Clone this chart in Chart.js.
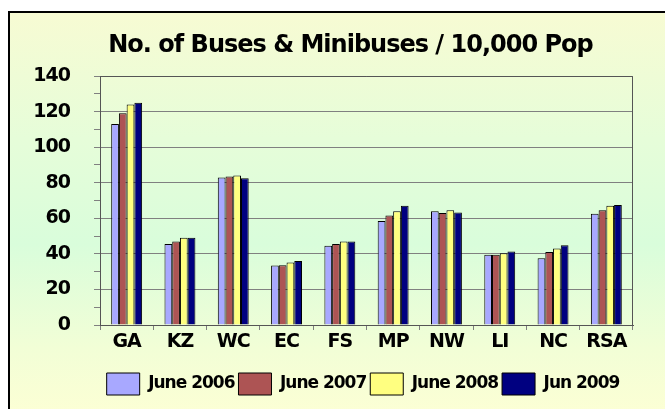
<!DOCTYPE html>
<html>
<head>
<meta charset="utf-8">
<title>No. of Buses & Minibuses / 10,000 Pop</title>
<script src="https://cdn.jsdelivr.net/npm/chart.js@4/dist/chart.umd.min.js"></script>
<style>
    html, body { margin: 0; padding: 0; background: #fff; }
    body { width: 665px; height: 409px; position: relative; overflow: hidden; }
    #frame {
        position: absolute; left: 8px; top: 11px; width: 700px; height: 420px;
        border-top: 2px solid #000; border-left: 2px solid #000;
        background: linear-gradient(to bottom, #F7FBD3 0%, #E6FDD9 30%, #D9FDDB 55%, #F2FED6 80%, #FFFFD4 100%);
    }
    #wrap { position: absolute; left: 0; top: 0; width: 665px; height: 409px; }
</style>
</head>
<body>
<div id="frame"></div>
<div id="wrap"><canvas id="chart"></canvas></div>
<script>
// Data
const categories = ['GA', 'KZ', 'WC', 'EC', 'FS', 'MP', 'NW', 'LI', 'NC', 'RSA'];
const june2006 = [113, 45.5, 83, 33.5, 44.5, 58.5, 64, 39.5, 37.5, 62.5];
const june2007 = [119, 47, 83.5, 33.6, 45.5, 61.5, 63, 39.5, 41, 64.5];
const june2008 = [124, 49, 84, 35.2, 47, 64, 64.5, 40.3, 43, 67];
const jun2009 = [125, 49, 82.5, 36, 47, 67, 63.3, 41.3, 44.8, 67.5];
const seriesLabels = ['June 2006', 'June 2007', 'June 2008', 'Jun 2009'];
const yMax = 140;

const FONT = "'DejaVu Sans', sans-serif";

// Squeezed text like the original export
const tightText = {
    id: 'tightText',
    beforeUpdate(chart) { chart.ctx.letterSpacing = '-1px'; },
    beforeLayout(chart) { chart.ctx.letterSpacing = '-1px'; },
    beforeDraw(chart) { chart.ctx.letterSpacing = '-1px'; }
};

// Title and legend sit a bit right of the canvas centre in the original
const nudgeBoxes = {
    id: 'nudgeBoxes',
    afterLayout(chart) {
        if (chart.titleBlock) chart.titleBlock.left += 60;
        if (chart.legend) chart.legend.left += 85;
    }
};

// Dark frame round the plot area (top + right edges)
const plotFrame = {
    id: 'plotFrame',
    beforeDatasetsDraw(chart) {
        const { ctx, chartArea: a } = chart;
        ctx.save();
        ctx.strokeStyle = '#555';
        ctx.lineWidth = 1;
        ctx.beginPath();
        ctx.moveTo(a.left, a.top + 0.5);
        ctx.lineTo(a.right - 0.5, a.top + 0.5);
        ctx.lineTo(a.right - 0.5, a.bottom);
        ctx.stroke();
        ctx.restore();
    }
};

function makeSet(label, data, color) {
    return {
        label: label,
        data: data,
        backgroundColor: color,
        borderColor: '#000',
        borderWidth: 1,
        barPercentage: 1.0,
        categoryPercentage: 0.58
    };
}

const ctx = document.getElementById('chart').getContext('2d');
new Chart(ctx, {
    type: 'bar',
    data: {
        labels: categories,
        datasets: [
            makeSet(seriesLabels[0], june2006, '#A8A8FF'),
            makeSet(seriesLabels[1], june2007, '#AD5454'),
            makeSet(seriesLabels[2], june2008, '#FFFF80'),
            makeSet(seriesLabels[3], jun2009, '#000080')
        ]
    },
    plugins: [tightText, nudgeBoxes, plotFrame],
    options: {
        responsive: true,
        maintainAspectRatio: false,
        animation: false,
        layout: { padding: { left: 8, right: 32, top: 0, bottom: 4 } },
        plugins: {
            title: {
                display: true,
                text: 'No. of Buses & Minibuses / 10,000 Pop',
                color: '#000',
                font: { family: FONT, size: 24, weight: 'bold', lineHeight: 1.2 },
                padding: { top: 31, bottom: 16.2 }
            },
            legend: {
                position: 'bottom',
                labels: {
                    color: '#000',
                    font: { family: FONT, size: 17, weight: 'bold' },
                    boxWidth: 33,
                    boxHeight: 22,
                    padding: 4
                }
            },
            tooltip: { enabled: false }
        },
        scales: {
            x: {
                afterFit: s => { s.height = 44; },
                border: { display: true, color: '#555', width: 1 },
                grid: {
                    offset: true,
                    drawOnChartArea: false,
                    color: '#808080',
                    tickLength: 5
                },
                ticks: {
                    color: '#000',
                    padding: 1,
                    maxRotation: 0,
                    autoSkip: false,
                    font: { family: FONT, size: 19, weight: 'bold' }
                }
            },
            y: {
                min: 0,
                max: yMax,
                afterFit: s => { s.width = 92; },
                border: { display: true, color: '#555', width: 1 },
                grid: {
                    color: c => (c.tick && c.tick.value % 20 === 0 && c.tick.value !== 0) ? '#808080' : 'rgba(0,0,0,0)',
                    tickColor: '#808080',
                    tickLength: 6
                },
                ticks: {
                    stepSize: 10,
                    autoSkip: false,
                    color: '#000',
                    padding: 24,
                    callback: v => (v % 20 === 0 ? v : ''),
                    font: { family: FONT, size: 19, weight: 'bold' }
                }
            }
        }
    }
});
</script>
</body>
</html>
